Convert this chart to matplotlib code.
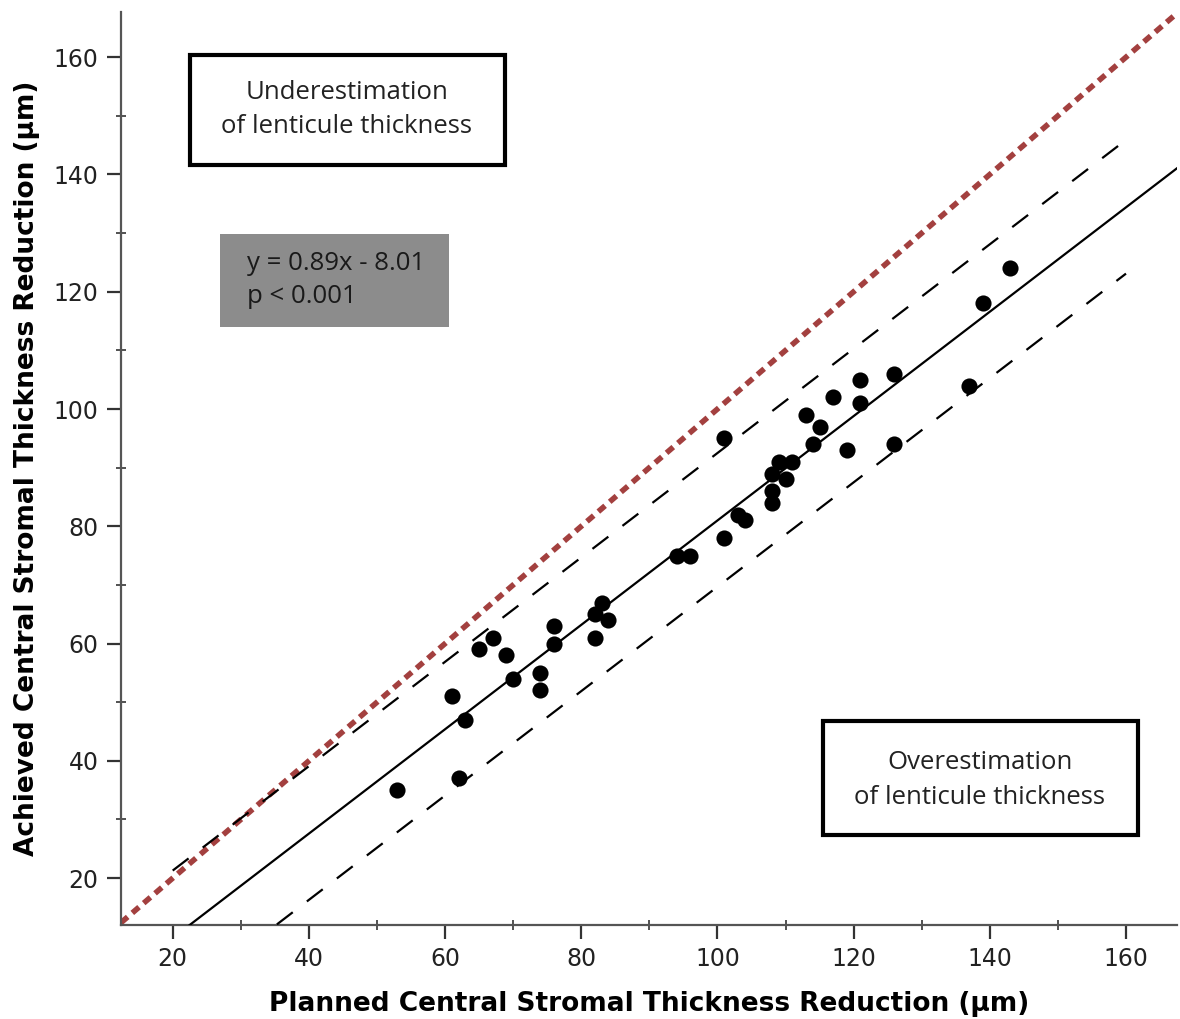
import numpy as np
import matplotlib.pyplot as plt
from matplotlib.patches import Rectangle
from matplotlib.ticker import MultipleLocator

# planned vs achieved central stromal thickness reduction (um)
planned = [53, 61, 62, 63, 65, 67, 69, 70, 74, 74, 76, 76, 82, 82, 83, 84,
           94, 96, 101, 101, 103, 104, 108, 108, 108, 109, 110, 111, 113, 114,
           115, 117, 119, 121, 121, 126, 126, 137, 139, 143]
achieved = [35, 51, 37, 47, 59, 61, 58, 54, 55, 52, 63, 60, 65, 61, 67, 64,
            75, 75, 95, 78, 82, 81, 89, 86, 84, 91, 88, 91, 99, 94,
            97, 102, 93, 105, 101, 106, 94, 104, 118, 124]

slope, intercept = 0.89, -8.01
band_upper, band_lower = 11.5, -11.3
upper_x = [20, 159]
lower_x = [35.3, 160]
xlim = (12.4, 167.5)
ylim = (12.0, 167.7)

fig = plt.figure(figsize=(11.8, 10.19), dpi=100)
ax = fig.add_axes([0.1025, 0.0922, 0.8950, 0.8960])

# identity line
ax.plot(xlim, xlim, color='#a3403f', lw=4, dashes=(1.6, 1.1), zorder=2)

# regression line and band
fx = np.array(xlim)
ax.plot(fx, slope * fx + intercept, color='black', lw=1.6, zorder=3)
ux = np.array(upper_x)
ax.plot(ux, slope * ux + intercept + band_upper, color='black', lw=1.6, dashes=(9, 8), zorder=3)
lx = np.array(lower_x)
ax.plot(lx, slope * lx + intercept + band_lower, color='black', lw=1.6, dashes=(9, 8), zorder=3)

ax.scatter(planned, achieved, s=135, color='black', zorder=4, linewidths=0)

ax.set_xlim(*xlim)
ax.set_ylim(*ylim)
ax.xaxis.set_major_locator(MultipleLocator(20))
ax.xaxis.set_minor_locator(MultipleLocator(10))
ax.yaxis.set_major_locator(MultipleLocator(20))
ax.yaxis.set_minor_locator(MultipleLocator(10))

for s in ['top', 'right']:
    ax.spines[s].set_visible(False)
for s in ['left', 'bottom']:
    ax.spines[s].set_color('#555555')
    ax.spines[s].set_linewidth(1.6)

ax.tick_params(which='major', direction='out', length=10, width=1.6, color='#333333',
               labelsize=17, labelcolor='#222222', pad=6)
ax.tick_params(which='minor', direction='inout', length=7, width=1.2, color='#333333')

ax.set_xlabel('Planned Central Stromal Thickness Reduction (\u03bcm)', fontsize=19,
              fontweight='bold', family='DejaVu Sans', labelpad=14)
ax.set_ylabel('Achieved Central Stromal Thickness Reduction (\u03bcm)', fontsize=19,
              fontweight='bold', family='DejaVu Sans', labelpad=10)

# annotation boxes
ax.add_patch(Rectangle((0.0653, 0.8324), 0.2983, 0.1205, transform=ax.transAxes,
                       facecolor='white', edgecolor='black', lw=3, zorder=5))
ax.text(0.214, 0.893, 'Underestimation\nof lenticule thickness', transform=ax.transAxes,
        ha='center', va='center', fontsize=18.5, family='Open Sans', color='#222222',
        linespacing=1.5, zorder=6)

ax.add_patch(Rectangle((0.0938, 0.655), 0.2168, 0.1018, transform=ax.transAxes,
                       facecolor='#8c8c8c', edgecolor='none', zorder=5))
ax.text(0.1193, 0.7065, 'y = 0.89x - 8.01\np < 0.001', transform=ax.transAxes,
        ha='left', va='center', fontsize=18.5, family='Open Sans', color='#1a1a1a',
        linespacing=1.45, zorder=6)

ax.add_patch(Rectangle((0.6648, 0.0986), 0.2982, 0.1248, transform=ax.transAxes,
                       facecolor='white', edgecolor='black', lw=3, zorder=5))
ax.text(0.8134, 0.1588, 'Overestimation\nof lenticule thickness', transform=ax.transAxes,
        ha='center', va='center', fontsize=18.5, family='Open Sans', color='#222222',
        linespacing=1.5, zorder=6)

plt.savefig('out.png', dpi=100)
plt.close()
